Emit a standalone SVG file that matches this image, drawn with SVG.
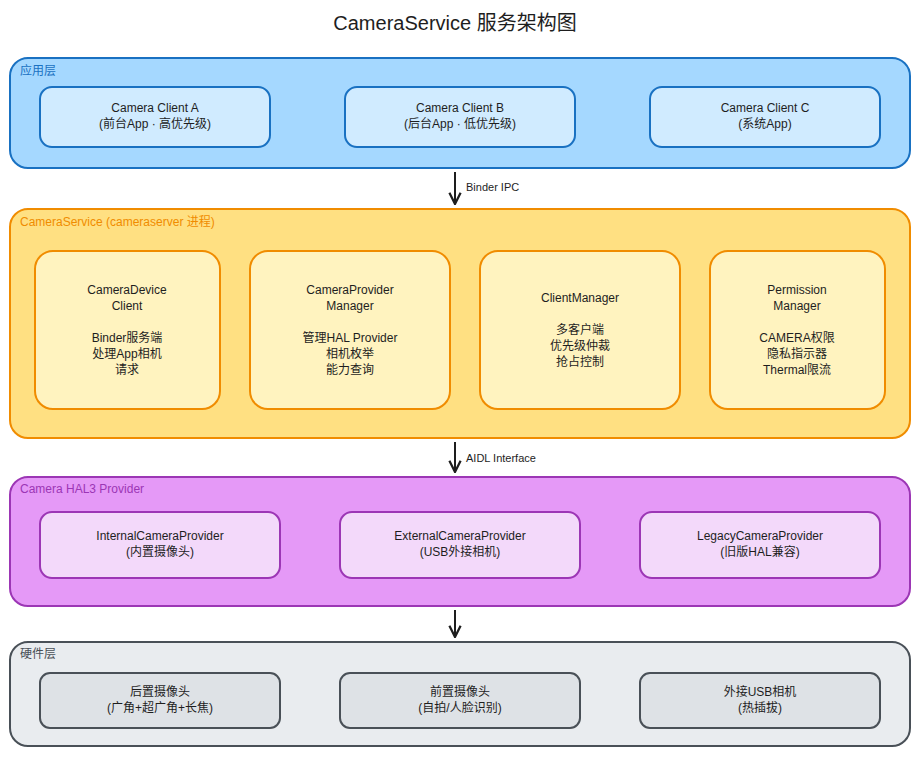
<svg xmlns="http://www.w3.org/2000/svg" width="920" height="757" viewBox="0 0 920 757">
<defs>
<style>
text{font-family:"Liberation Sans","Noto Sans CJK SC",sans-serif;fill:#1e1e1e}
.t{font-size:12px;text-anchor:middle}
.lbl{font-size:12px}
.con{stroke:#1e1e1e;stroke-width:2;fill:none}
</style>
<marker id="ah" viewBox="0 0 10 10" refX="9" refY="5" markerWidth="7" markerHeight="7" orient="auto"><path d="M1,1 L9,5 L1,9" fill="none" stroke="#1e1e1e" stroke-width="1.6"/></marker>
</defs>
<rect width="920" height="757" fill="#fff"/>
<text x="455" y="30" style="font-size:20px;text-anchor:middle">CameraService 服务架构图</text>

<g id="app-layer">
<rect x="10" y="58" width="900" height="110" rx="18" fill="#a5d8ff" stroke="#1971c2" stroke-width="2"/>
<text x="20" y="75" class="lbl" style="fill:#1971c2">应用层</text>
</g>
<g id="clientA"><rect x="40" y="87" width="230" height="60" rx="12" fill="#d0ebff" stroke="#1971c2" stroke-width="2"/><text x="155" y="112" class="t">Camera Client A</text><text x="155" y="128" class="t">(前台App · 高优先级)</text></g>
<g id="clientB"><rect x="345" y="87" width="230" height="60" rx="12" fill="#d0ebff" stroke="#1971c2" stroke-width="2"/><text x="460" y="112" class="t">Camera Client B</text><text x="460" y="128" class="t">(后台App · 低优先级)</text></g>
<g id="clientC"><rect x="650" y="87" width="230" height="60" rx="12" fill="#d0ebff" stroke="#1971c2" stroke-width="2"/><text x="765" y="112" class="t">Camera Client C</text><text x="765" y="128" class="t">(系统App)</text></g>

<g id="service-layer">
<rect x="10" y="209" width="900" height="229" rx="18" fill="#ffe082" stroke="#f08c00" stroke-width="2"/>
<text x="20" y="226" class="lbl" style="fill:#f08c00">CameraService  (cameraserver 进程)</text>
</g>
<g id="cdc"><rect x="35" y="251" width="185" height="158" rx="18" fill="#fff3bf" stroke="#f08c00" stroke-width="2"/>
<text x="127" y="294" class="t">CameraDevice</text><text x="127" y="310" class="t">Client</text>
<text x="127" y="342" class="t">Binder服务端</text><text x="127" y="358" class="t">处理App相机</text><text x="127" y="374" class="t">请求</text></g>
<g id="cpm"><rect x="250" y="251" width="200" height="158" rx="18" fill="#fff3bf" stroke="#f08c00" stroke-width="2"/>
<text x="350" y="294" class="t">CameraProvider</text><text x="350" y="310" class="t">Manager</text>
<text x="350" y="342" class="t">管理HAL Provider</text><text x="350" y="358" class="t">相机枚举</text><text x="350" y="374" class="t">能力查询</text></g>
<g id="cm"><rect x="480" y="251" width="200" height="158" rx="18" fill="#fff3bf" stroke="#f08c00" stroke-width="2"/>
<text x="580" y="302" class="t">ClientManager</text>
<text x="580" y="334" class="t">多客户端</text><text x="580" y="350" class="t">优先级仲裁</text><text x="580" y="366" class="t">抢占控制</text></g>
<g id="pm"><rect x="710" y="251" width="175" height="158" rx="18" fill="#fff3bf" stroke="#f08c00" stroke-width="2"/>
<text x="797" y="294" class="t">Permission</text><text x="797" y="310" class="t">Manager</text>
<text x="797" y="342" class="t">CAMERA权限</text><text x="797" y="358" class="t">隐私指示器</text><text x="797" y="374" class="t">Thermal限流</text></g>

<g id="hal-layer">
<rect x="10" y="477" width="900" height="129" rx="18" fill="#e599f7" stroke="#9c36b5" stroke-width="2"/>
<text x="20" y="493" class="lbl" style="fill:#9c36b5">Camera HAL3 Provider</text>
</g>
<g id="icp"><rect x="40" y="512" width="240" height="66" rx="12" fill="#f3d9fa" stroke="#9c36b5" stroke-width="2"/><text x="160" y="540" class="t">InternalCameraProvider</text><text x="160" y="556" class="t">(内置摄像头)</text></g>
<g id="ecp"><rect x="340" y="512" width="240" height="66" rx="12" fill="#f3d9fa" stroke="#9c36b5" stroke-width="2"/><text x="460" y="540" class="t">ExternalCameraProvider</text><text x="460" y="556" class="t">(USB外接相机)</text></g>
<g id="lcp"><rect x="640" y="512" width="240" height="66" rx="12" fill="#f3d9fa" stroke="#9c36b5" stroke-width="2"/><text x="760" y="540" class="t">LegacyCameraProvider</text><text x="760" y="556" class="t">(旧版HAL兼容)</text></g>

<g id="hw-layer">
<rect x="10" y="642" width="900" height="104" rx="18" fill="#e9ecef" stroke="#495057" stroke-width="2"/>
<text x="20" y="658" class="lbl" style="fill:#495057">硬件层</text>
</g>
<g id="rear"><rect x="40" y="673" width="240" height="55" rx="10" fill="#dee2e6" stroke="#495057" stroke-width="2"/><text x="160" y="696" class="t">后置摄像头</text><text x="160" y="712" class="t">(广角+超广角+长焦)</text></g>
<g id="front"><rect x="340" y="673" width="240" height="55" rx="10" fill="#dee2e6" stroke="#495057" stroke-width="2"/><text x="460" y="696" class="t">前置摄像头</text><text x="460" y="712" class="t">(自拍/人脸识别)</text></g>
<g id="usb"><rect x="640" y="673" width="240" height="55" rx="10" fill="#dee2e6" stroke="#495057" stroke-width="2"/><text x="760" y="696" class="t">外接USB相机</text><text x="760" y="712" class="t">(热插拔)</text></g>

<g id="connectors">
<line x1="455" y1="172" x2="455" y2="204" class="con" marker-end="url(#ah)"/>
<text x="466" y="191" style="font-size:11px">Binder IPC</text>
<line x1="455" y1="442" x2="455" y2="472" class="con" marker-end="url(#ah)"/>
<text x="466" y="462" style="font-size:11px">AIDL Interface</text>
<line x1="455" y1="610" x2="455" y2="637" class="con" marker-end="url(#ah)"/>
</g>
</svg>
